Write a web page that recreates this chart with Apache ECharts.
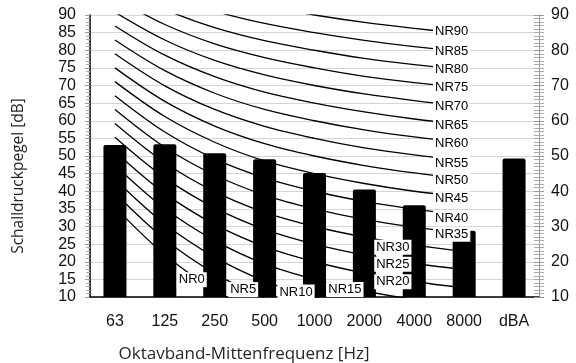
<!DOCTYPE html>
<html>
<head>
<meta charset="utf-8">
<script src="https://cdn.jsdelivr.net/npm/echarts@6/dist/echarts.min.js"></script>
<style>
  html, body { margin: 0; padding: 0; background: #fff; }
  #chart { width: 576px; height: 363px; }
</style>
</head>
<body>
<div id="chart"></div>
<script>
// Octave-band centre frequencies plus the A-weighted total
const categories = ['63', '125', '250', '500', '1000', '2000', '4000', '8000', 'dBA'];

// Measured sound pressure levels [dB]
const levels = [53.1, 53.3, 50.8, 49.1, 45.2, 40.5, 36.0, 28.8, 49.3];

// Noise rating curves, levels at 63 … 8000 Hz [dB]
const nrNames = ['NR0', 'NR5', 'NR10', 'NR15', 'NR20', 'NR25', 'NR30', 'NR35', 'NR40',
  'NR45', 'NR50', 'NR55', 'NR60', 'NR65', 'NR70', 'NR75', 'NR80', 'NR85', 'NR90'];
const nrLevels = [
  [35.5, 22.0, 12.0, 4.8, 0, -3.5, -6.1, -8.0],
  [39.5, 26.4, 16.7, 9.7, 5, 1.6, -1.0, -2.9],
  [43.4, 30.7, 21.3, 14.5, 10, 6.7, 4.2, 2.3],
  [47.4, 35.1, 26.0, 19.4, 15, 11.7, 9.3, 7.5],
  [51.3, 39.4, 30.6, 24.3, 20, 16.8, 14.4, 12.6],
  [55.3, 43.8, 35.3, 29.2, 25, 21.9, 19.5, 17.8],
  [59.2, 48.1, 39.9, 34.0, 30, 27.0, 24.7, 22.9],
  [63.2, 52.5, 44.6, 38.9, 35, 32.0, 29.8, 28.1],
  [67.1, 56.8, 49.2, 43.8, 40, 37.1, 34.9, 33.2],
  [71.1, 61.2, 53.9, 48.6, 45, 42.2, 40.0, 38.4],
  [75.0, 65.5, 58.5, 53.5, 50, 47.3, 45.2, 43.5],
  [79.0, 69.9, 63.2, 58.4, 55, 52.3, 50.3, 48.7],
  [82.9, 74.2, 67.8, 63.2, 60, 57.4, 55.4, 53.8],
  [86.9, 78.6, 72.5, 68.1, 65, 62.5, 60.5, 59.0],
  [90.8, 82.9, 77.1, 73.0, 70, 67.6, 65.7, 64.1],
  [94.8, 87.3, 81.8, 77.9, 75, 72.6, 70.8, 69.3],
  [98.7, 91.6, 86.4, 82.7, 80, 77.7, 75.9, 74.4],
  [102.7, 96.0, 91.1, 87.6, 85, 82.8, 81.0, 79.6],
  [106.6, 100.3, 95.7, 92.5, 90, 87.9, 86.2, 84.7]
];

// Where each curve's name tag sits (category position, level)
const nrLabelX = [1.54, 2.57, 3.63, 4.61, 5.57, 5.57, 5.57, 6.75, 6.75,
  6.75, 6.75, 6.75, 6.75, 6.75, 6.75, 6.75, 6.75, 6.75, 6.75];
const nrLabelY = [14.9, 12.1, 11.4, 12.1, 14.3, 19.3, 24.1, 27.8, 32.4,
  37.9, 43.1, 48.0, 53.7, 58.8, 64.2, 69.5, 74.6, 79.6, 85.3];

const tickFont = 'Liberation Sans, Arial, sans-serif';
const titleFont = 'Open Sans, sans-serif';

const curveSeries = nrLevels.map((row, i) => ({
  type: 'line',
  name: nrNames[i],
  xAxisIndex: 1,
  yAxisIndex: 0,
  data: row.map((v, k) => [k, v]),
  smooth: 0.35,
  symbol: 'none',
  clip: true,
  z: 2,
  lineStyle: { color: '#000', width: 1.3 },
  silent: true
}));

const chart = echarts.init(document.getElementById('chart'), null, { renderer: 'canvas' });

chart.setOption({
  animation: false,
  backgroundColor: '#fff',
  grid: { left: 90, right: 37, top: 15, bottom: 66, containLabel: false },
  xAxis: [
    {
      type: 'category',
      data: categories,
      axisLine: { onZero: false, lineStyle: { color: '#000', width: 1.5 } },
      axisTick: { show: false },
      axisLabel: { fontSize: 16, margin: 17, color: '#111', fontFamily: tickFont },
      splitLine: { show: false }
    },
    {
      type: 'value',
      min: -0.5,
      max: 8.5,
      show: false
    }
  ],
  yAxis: [
    {
      type: 'value',
      position: 'left',
      min: 10,
      max: 90,
      interval: 5,
      axisLine: { show: true, onZero: false, lineStyle: { color: '#000', width: 1.5 } },
      axisTick: { show: true, length: 5, lineStyle: { color: '#999' } },
      minorTick: { show: true, splitNumber: 5, length: 4, lineStyle: { color: '#aaa' } },
      axisLabel: { fontSize: 16, margin: 14, color: '#111', fontFamily: tickFont },
      splitLine: { show: true, lineStyle: { color: '#d4d4d4', width: 1 } }
    },
    {
      type: 'value',
      position: 'right',
      min: 10,
      max: 90,
      interval: 10,
      axisLine: { show: true, onZero: false, lineStyle: { color: '#999', width: 1 } },
      axisTick: { show: true, length: 5, lineStyle: { color: '#999' } },
      minorTick: { show: true, splitNumber: 10, length: 5, lineStyle: { color: '#aaa' } },
      axisLabel: { fontSize: 16, margin: 12, color: '#111', fontFamily: tickFont },
      splitLine: { show: false }
    },
    {
      type: 'value',
      position: 'right',
      min: 10,
      max: 90,
      interval: 10,
      axisLine: { show: false, onZero: false },
      axisTick: { show: true, inside: true, length: 5, lineStyle: { color: '#999' } },
      minorTick: { show: true, splitNumber: 10, length: 5, lineStyle: { color: '#aaa' } },
      axisLabel: { show: false },
      splitLine: { show: false }
    }
  ],
  graphic: [
    {
      type: 'text',
      x: 19,
      y: 176,
      rotation: Math.PI / 2,
      style: {
        text: 'Schalldruckpegel [dB]',
        fontSize: 15.5,
        fontFamily: titleFont,
        fill: '#262626',
        textAlign: 'center',
        textVerticalAlign: 'middle'
      }
    },
    {
      type: 'text',
      x: 244,
      y: 354,
      style: {
        text: 'Oktavband-Mittenfrequenz [Hz]',
        fontSize: 17,
        fontFamily: titleFont,
        fill: '#262626',
        textAlign: 'center',
        textVerticalAlign: 'middle'
      }
    }
  ],
  series: curveSeries.concat([
    {
      type: 'bar',
      name: 'Pegel',
      xAxisIndex: 0,
      yAxisIndex: 0,
      data: levels,
      barWidth: 23,
      z: 3,
      itemStyle: { color: '#000', borderRadius: [2, 2, 0, 0] },
      silent: true
    },
    {
      type: 'scatter',
      name: 'NR-Kurven',
      xAxisIndex: 1,
      yAxisIndex: 0,
      data: nrNames.map((n, i) => ({ name: n, value: [nrLabelX[i], nrLabelY[i]] })),
      symbolSize: 0,
      clip: false,
      z: 5,
      silent: true,
      itemStyle: { opacity: 1, color: '#fff' },
      label: {
        show: true,
        position: 'inside',
        formatter: p => p.name,
        fontSize: 13,
        fontFamily: tickFont,
        color: '#000',
        opacity: 1,
        backgroundColor: '#ffffff',
        padding: [1, 2, 1, 2]
      }
    }
  ])
});
</script>
</body>
</html>
